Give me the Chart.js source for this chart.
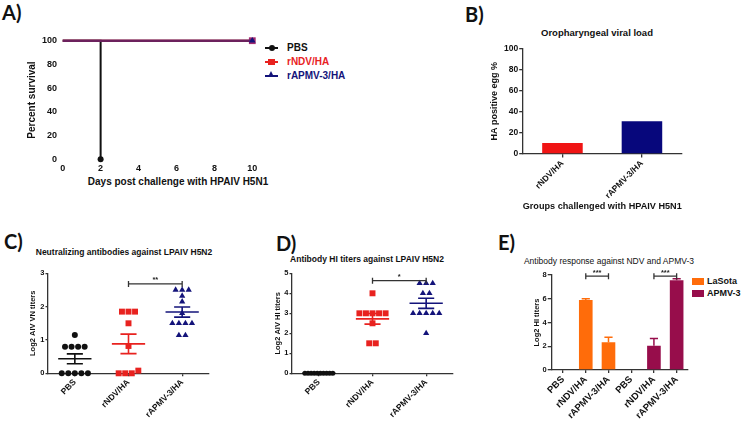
<!DOCTYPE html>
<html>
<head>
<meta charset="utf-8">
<script src="https://cdn.jsdelivr.net/npm/chart.js@4.4.1/dist/chart.umd.min.js"></script>
<style>
  body { margin: 0; width: 749px; height: 421px; position: relative; overflow: hidden; background: #fff;
         font-family: "Liberation Sans", Arial, sans-serif; color: #111; }
  canvas { position: absolute; }
  .letter { position: absolute; font-family: Lato, "Liberation Sans", sans-serif; font-weight: bold; font-size: 20px; line-height: 1; color: #111; }
  .ttl { position: absolute; width: 300px; text-align: center; white-space: nowrap; line-height: 1; font-weight: bold; }
  .lg { position: absolute; font-weight: bold; font-size: 10px; line-height: 1; white-space: nowrap; }
  .lgline { position: absolute; width: 13px; height: 2px; }
  .sw { position: absolute; width: 12px; height: 7px; }
</style>
</head>
<body>
<div class="letter" style="left:2px;top:2px">A)</div>
<div class="letter" style="left:465px;top:4px">B)</div>
<div class="letter" style="left:4px;top:231px">C)</div>
<div class="letter" style="left:276px;top:233px">D)</div>
<div class="letter" style="left:498px;top:232px">E)</div>

<div class="ttl" style="left:28px;top:177px;font-size:10px">Days post challenge with HPAIV H5N1</div>
<div class="ttl" style="left:447px;top:28px;font-size:9.5px">Oropharyngeal viral load</div>
<div class="ttl" style="left:-26px;top:248px;font-size:8.5px">Neutralizing antibodies against LPAIV H5N2</div>
<div class="ttl" style="left:217px;top:255px;font-size:8.5px">Antibody HI titers against LPAIV H5N2</div>
<div class="ttl" style="left:459px;top:257px;font-size:8.5px;font-weight:normal">Antibody response against NDV and APMV-3</div>

<!-- legend A -->
<div class="lgline" style="left:265px;top:47px;background:#111"></div>
<div style="position:absolute;left:269px;top:45px;width:6px;height:6px;border-radius:50%;background:#111"></div>
<div class="lg" style="left:287px;top:43px">PBS</div>
<div class="lgline" style="left:265px;top:61px;background:#e8221f"></div>
<div style="position:absolute;left:268px;top:59px;width:7px;height:6px;background:#e8221f"></div>
<div class="lg" style="left:287px;top:57px;color:#e8221f">rNDV/HA</div>
<div class="lgline" style="left:265px;top:75px;background:#13137a"></div>
<div style="position:absolute;left:268px;top:71px;width:0;height:0;border-left:3.5px solid transparent;border-right:3.5px solid transparent;border-bottom:6px solid #13137a"></div>
<div class="lg" style="left:287px;top:71px;color:#13137a">rAPMV-3/HA</div>

<!-- legend E -->
<div class="sw" style="left:692px;top:278px;background:#ff6c0a"></div>
<div class="lg" style="left:707px;top:277px;font-size:9px">LaSota</div>
<div class="sw" style="left:692px;top:290px;background:#970d4b"></div>
<div class="lg" style="left:707px;top:289px;font-size:9px">APMV-3</div>

<canvas id="cA"></canvas>
<canvas id="cB"></canvas>
<canvas id="cC"></canvas>
<canvas id="cD"></canvas>
<canvas id="cE"></canvas>

<script>
// ---- DATA ----
// A) survival after HPAIV H5N1 challenge
const daysPBS = [0, 2];
const survivalPBS = [100, 0];
const daysVaccinated = [0, 10];
const survivalRNDV = [100, 100];
const survivalRAPMV = [100, 100];

// B) oropharyngeal viral load
const viralGroups = ["rNDV/HA", "rAPMV-3/HA"];
const viralLoad = [10.5, 31];

// C) VN titers (log2)
const groups = ["PBS", "rNDV/HA", "rAPMV-3/HA"];
const vnPBS = [1.15, 0.8, 0.8, 0.8, 0.8, 0, 0, 0, 0, 0];
const vnRNDV = [1.85, 1.85, 1.85, 1.5, 0.82, 0.08, 0, 0, 0];
const vnRAPMV = [2.5, 2.5, 2.5, 2.32, 2.15, 1.8, 1.5, 1.5, 1.5, 1.5, 1.14, 1.14];

// D) HI titers (log2)
const hiPBS = [0, 0, 0, 0, 0, 0, 0, 0, 0, 0];
const hiRNDV = [4, 3, 3, 3, 3, 3, 2.5, 1.5, 1.5];
const hiRAPMV = [4.5, 4.5, 4.5, 4, 4, 3, 3, 3, 3, 3, 2];

// E) HI titers against NDV and APMV-3
const eGroups = ["PBS", "rNDV/HA", "rAPMV-3/HA", "PBS", "rNDV/HA", "rAPMV-3/HA"];
const lasota = [0, 5.9, 2.33, null, null, null];
const lasotaSem = [0, 0.1, 0.42, null, null, null];
const apmv3 = [null, null, null, 0, 2.05, 7.55];
const apmv3Sem = [null, null, null, 0, 0.6, 0.13];

// significance brackets: [from, to, height, label]
const bracketsC = [[1, 2, 2.68, "**"]];
const bracketsD = [[1, 2, 4.63, "*"]];
const bracketsE = [[1, 2, 7.9, "***"], [4, 5, 7.9, "***"]];

const BLACK = "#111", RED = "#e8221f", NAVY = "#13137a", ORANGE = "#ff6c0a", MAROON = "#970d4b";
const AXIS = "#333";

Chart.defaults.font.family = '"Liberation Sans", Arial, sans-serif';
Chart.defaults.font.weight = "bold";
Chart.defaults.color = "#111";
Chart.defaults.animation = false;
Chart.defaults.plugins.legend.display = false;
Chart.defaults.plugins.tooltip.enabled = false;

// ---- LAYOUT HELPERS ----
function place(id, box) {
  const cv = document.getElementById(id);
  cv.style.left = box[0] + "px";
  cv.style.top = box[1] + "px";
  cv.width = box[2];
  cv.height = box[3];
  return cv;
}
function layoutFor(box, plot) {
  return { padding: { left: 0, top: plot[1] - box[1], right: box[0] + box[2] - plot[2], bottom: 0 } };
}
function fixY(box, plot) {
  const w = plot[0] - box[0];
  return (s) => { s.width = w; s.paddingTop = 0; s.paddingBottom = 0; };
}
function fixX(box, plot) {
  const h = box[1] + box[3] - plot[3];
  return (s) => { s.height = h; s.paddingLeft = 0; s.paddingRight = 0; };
}
function yTitle(text, size, box, cx) {
  return { display: true, text, font: { size, weight: "bold" }, color: "#111",
           padding: { top: cx - box[0] - size * 0.6, bottom: 0 } };
}
function xTitle(text, size, box, cy) {
  return { display: true, text, font: { size, weight: "bold" }, color: "#111",
           padding: { top: 0, bottom: box[1] + box[3] - cy - size * 0.6 } };
}
function axisGrid(len) {
  return { display: true, drawOnChartArea: false, drawTicks: true, tickLength: len, color: AXIS, lineWidth: 1.3, offset: false };
}

// ---- PLUGINS ----
const bracketPlugin = {
  id: "brackets",
  afterDatasetsDraw(chart, args, opts) {
    if (!opts.items) return;
    const { ctx, scales: { x, y } } = chart;
    ctx.save();
    ctx.strokeStyle = AXIS;
    ctx.lineWidth = 1.3;
    ctx.fillStyle = "#222";
    ctx.font = 'bold 7.5px "Liberation Sans"';
    ctx.textAlign = "center";
    ctx.textBaseline = "bottom";
    opts.items.forEach(([a, b, v, label]) => {
      const x1 = x.getPixelForValue(a), x2 = x.getPixelForValue(b), py = y.getPixelForValue(v);
      ctx.beginPath();
      ctx.moveTo(x1, py - 3); ctx.lineTo(x1, py + 3);
      ctx.moveTo(x1, py); ctx.lineTo(x2, py);
      ctx.moveTo(x2, py - 3); ctx.lineTo(x2, py + 3);
      ctx.stroke();
      ctx.fillText(label, (x1 + x2) / 2, py);
    });
    ctx.restore();
  },
};

const errorBarPlugin = {
  id: "errorBars",
  afterDatasetsDraw(chart) {
    const { ctx, scales: { y } } = chart;
    chart.data.datasets.forEach((ds, i) => {
      if (!ds.sem) return;
      chart.getDatasetMeta(i).data.forEach((bar, j) => {
        const v = ds.data[j], e = ds.sem[j];
        if (v == null || !e) return;
        const top = y.getPixelForValue(v + e);
        ctx.save();
        ctx.strokeStyle = ds.backgroundColor;
        ctx.lineWidth = 1.5;
        ctx.beginPath();
        ctx.moveTo(bar.x, bar.y); ctx.lineTo(bar.x, top);
        ctx.moveTo(bar.x - bar.width * 0.3, top); ctx.lineTo(bar.x + bar.width * 0.3, top);
        ctx.stroke();
        ctx.restore();
      });
    });
  },
};

// ---- SCATTER HELPERS ----
function swarm(vals, center, tol, step, maxSpread) {
  const sorted = vals.slice().sort((a, b) => a - b);
  const rows = [];
  sorted.forEach((v) => {
    const last = rows[rows.length - 1];
    if (last && v - last[0] <= tol) last.push(v); else rows.push([v]);
  });
  const pts = [];
  rows.forEach((r) => {
    const s = r.length > 1 ? Math.min(step, maxSpread / (r.length - 1)) : 0;
    r.forEach((v, j) => pts.push({ x: center + (j - (r.length - 1) / 2) * s, y: v }));
  });
  return pts;
}
function stats(vals) {
  const n = vals.length;
  const m = vals.reduce((a, b) => a + b, 0) / n;
  const sd = Math.sqrt(vals.reduce((a, v) => a + (v - m) ** 2, 0) / (n - 1));
  return { m, se: sd / Math.sqrt(n) };
}
function meanLine(vals, c, half) {
  const { m } = stats(vals);
  return [{ x: c - half, y: m }, { x: c + half, y: m }];
}
function semLines(vals, c, half) {
  const { m, se } = stats(vals);
  return [
    { x: c - half, y: m + se }, { x: c + half, y: m + se }, { x: c, y: null },
    { x: c, y: m + se }, { x: c, y: m - se }, { x: c, y: null },
    { x: c - half, y: m - se }, { x: c + half, y: m - se },
  ];
}

function scatterPanel(id, box, plot, series, yMax, yTitleText, yTitleX, brackets) {
  const datasets = [];
  series.forEach((s, i) => {
    datasets.push({
      type: "scatter",
      data: swarm(s.vals, i, 0.1, 0.122, 0.52),
      pointStyle: s.style,
      pointRadius: s.radius,
      backgroundColor: s.color,
      borderWidth: 0,
      clip: false,
    });
    datasets.push({ type: "line", data: meanLine(s.vals, i, 0.31), borderColor: s.color, borderWidth: 1.6, pointRadius: 0, spanGaps: false, clip: false });
    datasets.push({ type: "line", data: semLines(s.vals, i, 0.15), borderColor: s.color, borderWidth: 1.6, pointRadius: 0, spanGaps: false, clip: false });
  });
  return new Chart(place(id, box), {
    type: "scatter",
    data: { datasets },
    plugins: [bracketPlugin],
    options: {
      responsive: false,
      layout: layoutFor(box, plot),
      plugins: { brackets: { items: brackets } },
      scales: {
        x: {
          type: "linear", min: -0.5, max: 2.5,
          afterBuildTicks: (s) => { s.ticks = groups.map((g, i) => ({ value: i })); },
          afterFit: fixX(box, plot),
          grid: axisGrid(3),
          border: { display: true, color: AXIS, width: 1.3 },
          ticks: { minRotation: 45, maxRotation: 45, padding: 1, font: { size: 8.5 }, callback: (v) => groups[v] },
        },
        y: {
          min: 0, max: yMax,
          afterFit: fixY(box, plot),
          grid: axisGrid(2.5),
          border: { display: true, color: AXIS, width: 1.3 },
          ticks: { stepSize: 1, padding: 1, font: { size: 7.5 } },
          title: yTitle(yTitleText, 7.5, box, yTitleX),
        },
      },
    },
  });
}

// ---- A) SURVIVAL ----
const boxA = [0, 20, 262, 180], plotA = [62.7, 40.7, 252.3, 159.3];
new Chart(place("cA", boxA), {
  type: "line",
  data: {
    datasets: [
      {
        label: "rAPMV-3/HA",
        data: daysVaccinated.map((d, i) => ({ x: d, y: survivalRAPMV[i] })),
        borderColor: "rgba(25,25,125,0.55)", borderWidth: 2.5,
        pointStyle: "triangle", pointRadius: [0, 3.8], pointBackgroundColor: NAVY, pointBorderWidth: 0,
        clip: false, order: 0,
      },
      {
        label: "rNDV/HA",
        data: daysVaccinated.map((d, i) => ({ x: d, y: survivalRNDV[i] })),
        borderColor: "#d02a35", borderWidth: 2.5,
        pointStyle: "rect", pointRadius: [0, 4.8], pointBackgroundColor: "#a22a70", pointBorderWidth: 0,
        clip: false, order: 1,
      },
      {
        label: "PBS",
        data: daysPBS.map((d, i) => ({ x: d, y: survivalPBS[i] })),
        stepped: "before",
        borderColor: BLACK, borderWidth: 2,
        pointStyle: "circle", pointRadius: [0, 3], pointBackgroundColor: BLACK, pointBorderWidth: 0,
        clip: false, order: 2,
      },
    ],
  },
  options: {
    responsive: false,
    layout: layoutFor(boxA, plotA),
    scales: {
      x: {
        type: "linear", min: 0, max: 10,
        afterFit: fixX(boxA, plotA),
        grid: { display: false, drawTicks: false },
        border: { display: false },
        ticks: { stepSize: 2, padding: 4.3, font: { size: 9 } },
      },
      y: {
        min: 0, max: 100,
        afterFit: fixY(boxA, plotA),
        grid: { display: false, drawTicks: false },
        border: { display: false },
        ticks: { stepSize: 20, padding: 5.7, font: { size: 9 } },
        title: yTitle("Percent survival", 10, boxA, 32),
      },
    },
  },
});

// ---- B) VIRAL LOAD ----
const boxB = [470, 40, 225, 180], plotB = [522.7, 48.3, 681.7, 154];
new Chart(place("cB", boxB), {
  type: "bar",
  data: {
    labels: viralGroups,
    datasets: [{ data: viralLoad, backgroundColor: ["#f01414", "#07077c"], categoryPercentage: 1, barPercentage: 0.51 }],
  },
  options: {
    responsive: false,
    layout: layoutFor(boxB, plotB),
    scales: {
      x: {
        afterFit: fixX(boxB, plotB),
        grid: axisGrid(3.5),
        border: { display: true, color: AXIS, width: 1.3 },
        ticks: { minRotation: 45, maxRotation: 45, padding: 1, font: { size: 8.5 } },
        title: xTitle("Groups challenged with HPAIV H5N1", 9.5, boxB, 206),
      },
      y: {
        min: 0, max: 100,
        afterFit: fixY(boxB, plotB),
        grid: axisGrid(3.5),
        border: { display: true, color: AXIS, width: 1.3 },
        ticks: { stepSize: 20, padding: 1, font: { size: 8.5 } },
        title: yTitle("HA positive egg %", 9, boxB, 495),
      },
    },
  },
});

// ---- C) VN TITERS ----
scatterPanel("cC", [20, 262, 200, 159], [48, 273.3, 209, 373.3], [
  { vals: vnPBS, color: BLACK, style: "circle", radius: 3 },
  { vals: vnRNDV, color: RED, style: "rect", radius: 4.2 },
  { vals: vnRAPMV, color: NAVY, style: "triangle", radius: 3.6 },
], 3, "Log2 AIV VN titers", 33, bracketsC);

// ---- D) HI TITERS ----
scatterPanel("cD", [260, 262, 200, 159], [292, 273.3, 453, 373.3], [
  { vals: hiPBS, color: BLACK, style: "circle", radius: 2.5 },
  { vals: hiRNDV, color: RED, style: "rect", radius: 4.2 },
  { vals: hiRAPMV, color: NAVY, style: "triangle", radius: 3.6 },
], 5, "Log2 AIV HI titers", 278, bracketsD);

// ---- E) NDV / APMV-3 ----
const boxE = [520, 262, 172, 159], plotE = [551.7, 275, 688, 370];
new Chart(place("cE", boxE), {
  type: "bar",
  data: {
    labels: eGroups,
    datasets: [
      { label: "LaSota", data: lasota, sem: lasotaSem, backgroundColor: ORANGE, grouped: false, categoryPercentage: 1, barPercentage: 0.6 },
      { label: "APMV-3", data: apmv3, sem: apmv3Sem, backgroundColor: MAROON, grouped: false, categoryPercentage: 1, barPercentage: 0.6 },
    ],
  },
  plugins: [errorBarPlugin, bracketPlugin],
  options: {
    responsive: false,
    layout: layoutFor(boxE, plotE),
    plugins: { brackets: { items: bracketsE } },
    scales: {
      x: {
        afterFit: fixX(boxE, plotE),
        grid: axisGrid(3),
        border: { display: true, color: AXIS, width: 1.3 },
        ticks: { minRotation: 45, maxRotation: 45, padding: 1, font: { size: 9.5 } },
      },
      y: {
        min: 0, max: 8,
        afterFit: fixY(boxE, plotE),
        grid: axisGrid(4),
        border: { display: true, color: AXIS, width: 1.3 },
        ticks: { stepSize: 2, padding: 1, font: { size: 7.5 } },
        title: yTitle("Log2 HI titers", 7.5, boxE, 537),
      },
    },
  },
});
</script>
</body>
</html>
